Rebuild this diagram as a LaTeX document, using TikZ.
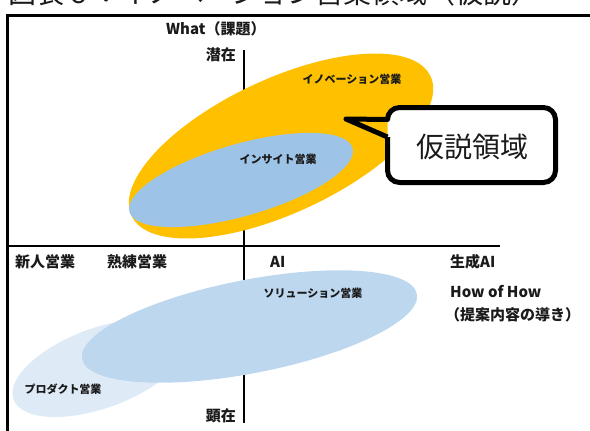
\documentclass[tikz,border=0pt]{standalone}
\usepackage{fontspec}
\setmainfont{Noto Sans CJK JP}
\newfontfamily\jp{Noto Sans CJK JP}
\definecolor{innoorange}{HTML}{FFC000}
\definecolor{insightblue}{HTML}{9DC3E6}
\definecolor{solublue}{HTML}{BDD7EE}
\definecolor{prodblue}{HTML}{DEEBF7}
\definecolor{txt}{HTML}{1A1A1A}
\begin{document}
\begin{tikzpicture}[x=1pt,y=-1pt,
  titletext/.style={font=\jp\fontsize{28}{32}\selectfont, inner sep=0pt, anchor=base west, text=txt},
  axislabel/.style={font=\jp\bfseries\fontsize{15}{18}\selectfont, inner sep=0pt, text=txt},
  regionlabel/.style={font=\jp\bfseries\fontsize{11}{13}\selectfont, inner sep=0pt, text=txt},
  calloutlabel/.style={font=\jp\fontsize{28}{32}\selectfont, inner sep=0pt, text=txt},
  frameline/.style={line width=3pt, black},
  axisline/.style={line width=2pt, black},
  calloutline/.style={line width=5pt, black, line join=round}]
\useasboundingbox (0,0) rectangle (590,431);

% title (cut off at the top)
\node[titletext] (title) at (8,3) {図表６：イノベーション営業領域（仮説）};

% frame
\coordinate (fTR) at (594,15);
\coordinate (fTL) at (7.5,15);
\coordinate (fBL) at (7.5,435);
\draw[frameline] (fTR) -- (fTL) -- (fBL);

% axes
\coordinate (vT) at (244,50);
\coordinate (vB) at (244,423);
\coordinate (hL) at (7.5,246);
\coordinate (hR) at (500,246);
\draw[axisline] (vT) -- (vB);
\draw[axisline] (hL) -- (hR);

% ellipses
\coordinate (cProd) at (100,368);
\coordinate (cSolu) at (249.5,326.5);
\coordinate (cInno) at (281,146);
\coordinate (cIns) at (241,180);
\fill[prodblue, rotate around={20:(cProd)}] (cProd) ellipse [x radius=92, y radius=40];
\fill[solublue, rotate around={11:(cSolu)}] (cSolu) ellipse [x radius=170.5, y radius=46.7];
\fill[innoorange, rotate around={25:(cInno)}] (cInno) ellipse [x radius=165, y radius=67];
\fill[insightblue, rotate around={16:(cIns)}] (cIns) ellipse [x radius=116, y radius=36];

% axis labels
\node[axislabel, anchor=west] (what) at (166,29) {What（課題）};
\node[axislabel, anchor=east] (sen) at (236,55) {潜在};
\node[axislabel, anchor=east] (ken) at (236,416) {顕在};
\node[axislabel, anchor=west] (shinjin) at (15,262) {新人営業};
\node[axislabel, anchor=west] (jukuren) at (107,262) {熟練営業};
\node[axislabel, anchor=west] (ai) at (270,262) {AI};
\node[axislabel, anchor=west] (genai) at (450,262) {生成AI};
\node[axislabel, anchor=west] (howof) at (450,292) {How of How};
\node[axislabel, anchor=west] (teian) at (445,315) {（提案内容の導き）};

% region labels
\node[regionlabel] (inno) at (352,79) {イノベーション営業};
\node[regionlabel] (ins) at (278,159) {インサイト営業};
\node[regionlabel] (solu) at (313,293) {ソリューション営業};
\node[regionlabel] (prod) at (63,389) {プロダクト営業};

% callout
\fill[white, rounded corners=12pt] (387.5,107.5) rectangle (555.5,182.5);
\coordinate (tip) at (346,119);
\coordinate (joinLow) at (387.5,137);
\coordinate (joinUp) at (387.5,119.5);
\draw[calloutline] (joinLow) -- (387.5,170.5)
  arc[start angle=180, end angle=90, radius=12] -- (543.5,182.5)
  arc[start angle=90, end angle=0, radius=12] -- (555.5,119.5)
  arc[start angle=0, end angle=-90, radius=12] -- (399.5,107.5)
  arc[start angle=-90, end angle=-180, radius=12] -- (joinUp)
  -- (tip) -- (joinLow);
\node[calloutlabel] (kasetsu) at (472,147) {仮説領域};
\end{tikzpicture}
\end{document}
